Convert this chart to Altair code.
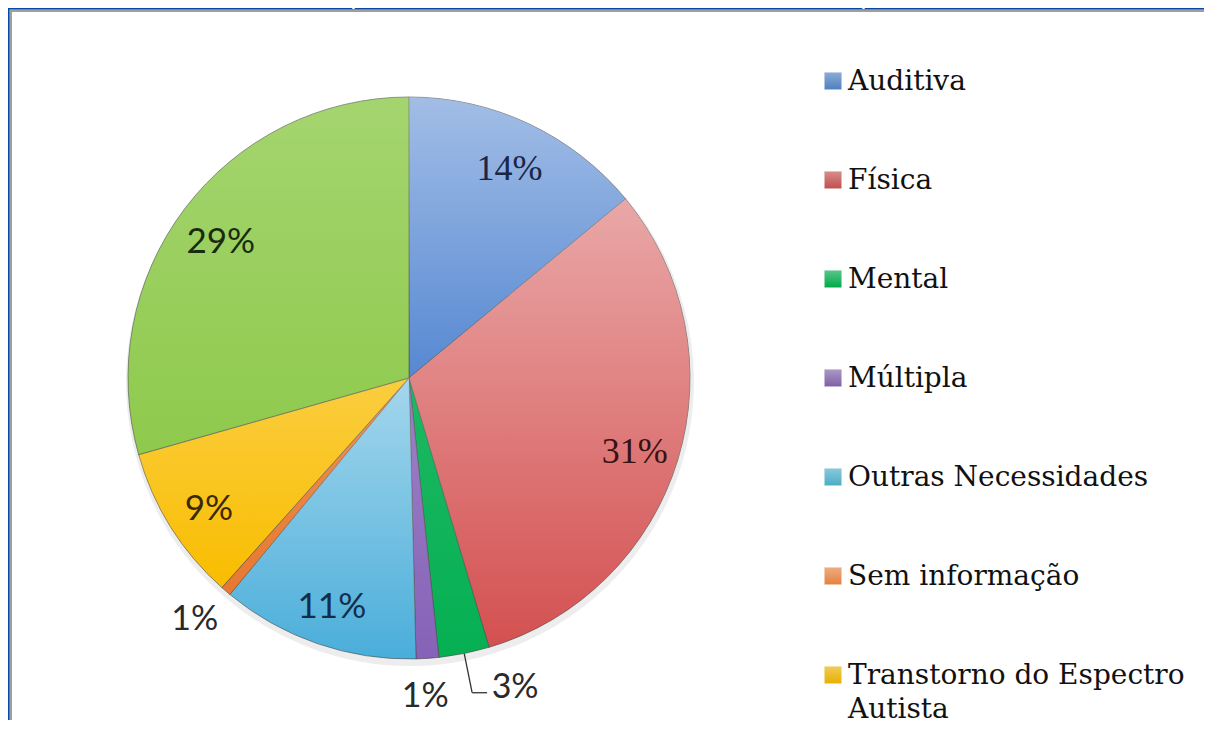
import altair as alt
import pandas as pd

# ---- data ----
categories = ["Auditiva", "Física", "Mental", "Múltipla", "Outras Necessidades",
              "Sem informação", "Transtorno do Espectro Autista", "Visual"]
values = [14.0, 31.4, 2.9, 1.3, 11.4, 0.6, 9.0, 29.4]
pct_labels = ["14%", "31%", "3%", "1%", "11%", "1%", "9%", "29%"]
legend_text = ["Auditiva", "Física", "Mental", "Múltipla", "Outras Necessidades",
               "Sem informação", "Transtorno do Espectro|Autista", "Visual"]
title_text = ["Gráfico 1 – Tipos de deficiências dos estudantes PcD da Ufopa"]

# ---- styles ----
slice_colors = ["#5688D2", "#D45050", "#05B052", "#8662B8", "#4AAEDA", "#E8782E", "#F9BD00", "#8ECA4C"]
highlight = [0.45, 0.5, 0.1, 0.2, 0.5, 0.2, 0.25, 0.2]
legend_colors = ["#4F7FC0", "#C0504D", "#00A84A", "#7E60A6", "#4BACC6", "#E5803E", "#E8B000", "#8CC84E"]
label_colors = ["#1B2545", "#3A1212", "#2A2A2A", "#2A2A2A", "#132E48", "#2A2A2A", "#3A2A00", "#1A2A0C"]

df = pd.DataFrame({
    "idx": list(range(len(categories))),
    "cat": categories,
    "value": values,
    "pct": pct_labels,
    "leg": legend_text,
})

CX, CY, R = 397, 366, 281
R_IN, R_OUT = 236, 321

theta = alt.Theta("value:Q", stack=True)
order = alt.Order("idx:Q", sort="ascending")

shadow = alt.Chart(df).mark_arc(
    x=CX + 1, y=CY + 4, outerRadius=R + 3, fill="#000000", opacity=0.07
).encode(theta=theta, order=order)

arcs = alt.Chart(df).mark_arc(
    x=CX, y=CY, outerRadius=R, stroke="#4a4a4a", strokeWidth=1, strokeOpacity=0.6
).encode(
    theta=theta, order=order,
    color=alt.Color("cat:N", scale=alt.Scale(domain=categories, range=slice_colors), legend=None),
)

grad = alt.LinearGradient(
    gradient="linear",
    stops=[alt.GradientStop(color="rgba(255,255,255,1)", offset=0),
           alt.GradientStop(color="rgba(255,255,255,0)", offset=1)],
    x1=0, x2=0, y1=0, y2=1,
)
shade = alt.Chart(df).mark_arc(x=CX, y=CY, outerRadius=R, fill=grad).encode(
    theta=theta, order=order,
    opacity=alt.Opacity("cat:N", scale=alt.Scale(type="ordinal", domain=categories, range=highlight),
                        legend=None),
)


def label_layer(text_expr, font, size, radius, dx=0, dy=0):
    return alt.Chart(df).transform_calculate(t=text_expr).mark_text(
        x=CX, y=CY, radius=radius, font=font, fontSize=size, dx=dx, dy=dy,
        align="center", baseline="middle"
    ).encode(
        theta=theta, order=order,
        text="t:N",
        color=alt.Color("cat:N", scale=alt.Scale(domain=categories, range=label_colors), legend=None),
    )


lab_serif = label_layer("(datum.cat == 'Auditiva' || datum.cat == 'Física') ? datum.pct : ''",
                        "Liberation Serif", 36, R_IN, dy=5)
lab_sans = label_layer("(datum.value >= 5 && datum.cat != 'Auditiva' && datum.cat != 'Física') ? datum.pct : ''",
                       "Lato", 35, R_IN, dy=6)
lab_out = label_layer("(datum.value < 5 && datum.cat != 'Mental') ? datum.pct : ''",
                      "Lato", 34, R_OUT, dx=-5, dy=-1)
lab_mental = label_layer("datum.cat == 'Mental' ? datum.pct : ''", "Lato", 34, R_OUT, dx=43, dy=-5)

lead = alt.Chart(df).transform_joinaggregate(tot="sum(value)").transform_window(
    cum="sum(value)", sort=[alt.SortField("idx", order="ascending")], frame=[None, 0]
).transform_calculate(
    a="2*PI*(datum.cum - datum.value/2)/datum.tot"
).transform_filter("datum.cat == 'Mental'").transform_calculate(
    px=f"{CX} + {R}*sin(datum.a)", py=f"{CY} - {R}*cos(datum.a)",
    qx=f"{CX} + {R_OUT}*sin(datum.a)", qy=f"{CY} - {R_OUT}*cos(datum.a)",
    rx=f"{CX} + {R_OUT}*sin(datum.a) + 15",
)
seg1 = lead.mark_rule(color="#333333", strokeWidth=1.3).encode(
    x=alt.X("px:Q", scale=None), y=alt.Y("py:Q", scale=None), x2="qx:Q", y2="qy:Q")
seg2 = lead.mark_rule(color="#333333", strokeWidth=1.3).encode(
    x=alt.X("qx:Q", scale=None), y=alt.Y("qy:Q", scale=None), x2="rx:Q")

leg_y = alt.Y("cat:N", scale=alt.Scale(domain=categories, range=[69, 69 + 99 * 7], padding=0), axis=None)
leg_sq = alt.Chart(df).mark_square(size=310, opacity=1, x=821, stroke="#ffffff", strokeWidth=0.6).encode(
    y=leg_y,
    color=alt.Color("cat:N", scale=alt.Scale(domain=categories, range=legend_colors), legend=None),
)
leg_sq_shade = alt.Chart(df).mark_square(size=300, x=821, fill=grad, opacity=0.35).encode(y=leg_y)
leg_txt = alt.Chart(df).mark_text(
    x=836, dy=9, align="left", baseline="alphabetic", font="DejaVu Serif", fontSize=28,
    lineBreak="|", lineHeight=34, color="#111111"
).encode(y=leg_y, text="leg:N")

title = alt.Chart(pd.DataFrame({"t": title_text})).mark_text(
    x=533, y=-7, font="Lato", fontSize=25, color="white", align="center", baseline="alphabetic"
).encode(text="t:N")

frame_df = pd.DataFrame({"k": [0]})
left_blue = alt.Chart(frame_df).mark_rule(color="#0747A6", strokeWidth=2.0).encode(
    x=alt.value(-3.2), y=alt.value(-4), y2=alt.value(708))
top_blue = alt.Chart(frame_df).mark_rule(color="#0747A6", strokeWidth=2.0).encode(
    y=alt.value(-3.2), x=alt.value(-4), x2=alt.value(1192))
left_border = alt.Chart(frame_df).mark_rule(color="#9E9E9E", strokeWidth=2.4).encode(
    x=alt.value(-1.2), y=alt.value(-2.2), y2=alt.value(708))
top_border = alt.Chart(frame_df).mark_rule(color="#9E9E9E", strokeWidth=2.4).encode(
    y=alt.value(-1.2), x=alt.value(-2.2), x2=alt.value(1192))

chart = alt.layer(
    left_blue, top_blue, left_border, top_border, shadow, arcs, shade,
    lab_serif, lab_sans, lab_out, lab_mental, seg1, seg2,
    leg_sq, leg_sq_shade, leg_txt, title
).resolve_scale(
    color="independent", x="independent", y="independent", opacity="independent"
).properties(
    width=1192, height=708, background="white",
    padding={"left": 4, "top": 4, "right": 0, "bottom": 0},
    autosize=alt.AutoSizeParams(type="none"),
).configure_view(stroke="transparent", strokeWidth=0)

chart.save("out.html", embed_options={"renderer": "svg", "actions": False})
